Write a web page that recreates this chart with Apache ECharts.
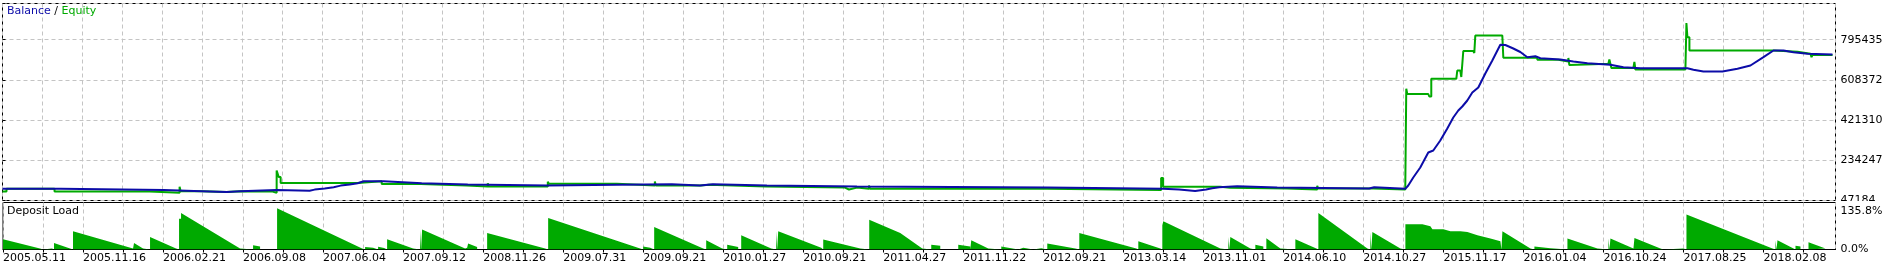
<!DOCTYPE html>
<html>
<head>
<meta charset="utf-8">
<script src="https://cdn.jsdelivr.net/npm/echarts@6/dist/echarts.min.js"></script>
<style>
html,body{margin:0;padding:0;background:#fff;}
#c{width:1889px;height:269px;}
</style>
</head>
<body>
<div id="c"></div>
<script>
// x axis = trade index (one unit per pixel column of the original chart)
const xLabels = ['2005.05.11','2005.11.16','2006.02.21','2006.09.08','2007.06.04','2007.09.12','2008.11.26','2009.07.31','2009.09.21','2010.01.27','2010.09.21','2011.04.27','2011.11.22','2012.09.21','2013.03.14','2013.11.01','2014.06.10','2014.10.27','2015.11.17','2016.01.04','2016.10.24','2017.08.25','2018.02.08'];
const yTickLabels = ['47184','234247','421310','608372','795435'];
const loadTickLabels = ['0.0%','135.8%'];

const balance = [[0,101622],[58,101622],[59,96038],[161,96038],[162,90455],[199,90455],[200,86733],[224,86733],[225,90455],[238,90455],[239,96038],[274,96038],[275,92316],[307,92316],[312,97900],[322,103483],[331,109066],[338,116511],[347,122094],[355,127212],[361,136518],[381,136518],[382,127677],[419,127677],[420,121629],[465,121629],[466,116976],[545,116976],[546,120233],[614,120233],[615,123025],[669,123025],[670,116976],[697,116976],[698,123025],[710,123025],[711,116976],[764,116976],[765,112323],[854,112323],[855,107670],[1044,107670],[1045,101622],[1160,101622],[1161,98365],[1176,98365],[1177,90920],[1192,90920],[1193,98365],[1203,98365],[1204,104413],[1209,104413],[1210,109066],[1216,109066],[1217,113719],[1234,113719],[1235,107670],[1274,107670],[1275,103018],[1366,103018],[1367,109066],[1371,109066],[1372,101622],[1402,101622],[1405,116976],[1410,154198],[1417,200726],[1425,270518],[1430,279824],[1437,326352],[1444,382186],[1450,433366],[1455,465936],[1459,484547],[1464,512464],[1469,549686],[1475,572950],[1482,638090],[1489,698576],[1497,771625],[1502,770694],[1510,754410],[1517,738125],[1524,713930],[1532,718583],[1537,709277],[1557,703229],[1570,693923],[1584,686013],[1607,678569],[1620,667402],[1637,662749],[1684,662749],[1690,655305],[1700,647395],[1719,647395],[1734,659958],[1747,675312],[1760,713930],[1770,745104],[1780,745104],[1790,737194],[1804,729750],[1829,726493]];

const equity = [[0,88594],[4,88594],[4,101622],[52,101622],[52,88594],[147,88594],[147,83011],[177,83011],[177,110927],[178,90455],[199,90455],[199,86733],[224,86733],[224,90455],[238,90455],[238,88594],[270,88594],[270,83011],[274,83011],[274,186768],[275,186768],[276,156990],[278,156990],[278,128608],[355,128608],[355,136518],[379,136518],[379,123490],[418,123490],[418,116511],[464,116511],[464,112788],[485,112788],[485,127212],[486,112788],[545,112788],[545,134657],[546,124886],[614,124886],[614,116976],[652,116976],[652,135122],[653,116511],[670,116511],[670,116976],[698,116976],[698,120233],[706,120233],[706,112788],[763,112788],[763,107205],[842,107205],[842,98365],[846,98365],[846,107205],[854,107205],[854,101622],[866,101622],[866,116511],[867,101622],[1044,101622],[1044,96504],[1158,96504],[1158,151407],[1160,151407],[1160,110927],[1217,110927],[1217,106275],[1227,106275],[1227,103018],[1284,103018],[1284,98365],[1314,98365],[1314,115580],[1315,103018],[1370,103018],[1370,98365],[1402,98365],[1403,566902],[1404,542707],[1425,542707],[1426,531075],[1428,531075],[1428,613430],[1453,613430],[1454,652048],[1457,652048],[1458,621805],[1459,621805],[1460,742778],[1470,742778],[1471,733472],[1472,733472],[1472,814896],[1499,814896],[1500,711139],[1534,711139],[1534,701833],[1555,701833],[1555,693923],[1565,693923],[1565,710208],[1566,677638],[1566,683222],[1605,683222],[1606,703229],[1607,683222],[1608,663680],[1630,663680],[1631,692527],[1632,656701],[1682,656701],[1683,873056],[1684,806986],[1686,806986],[1686,745104],[1770,745104],[1770,739055],[1794,739055],[1794,729750],[1807,729750],[1808,713930],[1809,724166],[1829,724166]];

const depositLoad = [[0,33.6],[37,3],[37,0],[40,0],[40,4],[49,3],[49,0],[51,0],[51,21.5],[67,3],[67,0],[70,0],[70,59.7],[130,3],[130,0],[131,0],[131,21.5],[140,3],[140,0],[147,0],[147,41.1],[173,3],[173,0],[176,0],[176,101],[178,101],[178,119.5],[237,3],[237,0],[250,0],[250,14],[257,10],[257,0],[274,0],[274,135.8],[359,3],[359,0],[362,0],[362,8],[370,6],[370,0],[375,0],[375,9],[381,5],[381,0],[384,0],[384,33.6],[410,3],[410,0],[417,0],[417,65],[418,65],[418,0],[419,0],[419,66],[462,3],[462,0],[463,0],[463,6],[464,6],[464,0],[465,0],[465,19.6],[474,8],[474,0],[484,0],[484,54.2],[542,3],[542,0],[545,0],[545,103.2],[637,3],[637,0],[640,0],[640,10],[647,6],[647,0],[651,0],[651,73.8],[700,3],[700,0],[703,0],[703,30.4],[719,3],[719,0],[724,0],[724,16],[735,8],[735,0],[738,0],[738,46.7],[768,3],[768,0],[773,0],[773,60.7],[774,60.7],[774,0],[775,0],[775,60],[818,6],[818,0],[820,0],[820,32.7],[857,3],[857,0],[866,0],[866,98],[897,54],[919,3],[919,0],[928,0],[928,16],[937,12],[937,0],[955,0],[955,16],[967,10],[967,0],[968,0],[968,30.4],[985,3],[985,0],[998,0],[998,10],[1005,6],[1005,0],[1015,0],[1015,6],[1020,6],[1020,0],[1030,0],[1030,6],[1038,4],[1038,0],[1044,0],[1044,19.6],[1072,3],[1072,0],[1076,0],[1076,54.2],[1133,3],[1133,0],[1135,0],[1135,27.1],[1157,3],[1157,0],[1159,0],[1159,80],[1160,92.4],[1217,3],[1217,0],[1225,0],[1225,41],[1226,41],[1226,0],[1227,0],[1227,41],[1247,3],[1247,0],[1252,0],[1252,16],[1260,10],[1260,0],[1263,0],[1263,36.9],[1277,3],[1277,0],[1292,0],[1292,33.6],[1313,3],[1313,0],[1315,0],[1315,119.5],[1364,3],[1364,0],[1367,0],[1367,57.5],[1368,57.5],[1368,0],[1369,0],[1369,57.5],[1397,3],[1397,0],[1402,0],[1402,82.6],[1419,82.6],[1427,76],[1429,66.3],[1440,66.3],[1447,59.7],[1457,59.7],[1464,57.5],[1474,46.7],[1487,35.9],[1497,27.1],[1498,0],[1499,0],[1499,59.7],[1527,3],[1527,0],[1531,0],[1531,10],[1547,4],[1547,0],[1564,0],[1564,35.9],[1594,3],[1594,0],[1605,0],[1605,36],[1606,36],[1606,0],[1607,0],[1607,36],[1630,3],[1630,0],[1631,0],[1631,37.9],[1657,3],[1657,0],[1660,0],[1660,3],[1680,3],[1680,0],[1683,0],[1683,115.3],[1769,3],[1769,0],[1772,0],[1772,30.4],[1773,30.4],[1773,0],[1774,0],[1774,30.4],[1790,3],[1790,0],[1792,0],[1792,12],[1797,10],[1797,0],[1805,0],[1805,23.8],[1822,3],[1822,0]];

const yMin = 47184, yMax = 963792, yStep = 187062.75;
const loadMax = 154.4, loadTop = 135.8;
const xMax = 1832;

const BLUE = '#0c0ca8', GREEN = '#00aa00', GRIDC = '#c4c4c4';
const FONT = 'DejaVu Sans';

const chart = echarts.init(document.getElementById('c'), null, {renderer: 'canvas'});
chart.setOption({
  animation: false,
  backgroundColor: '#fff',
  textStyle: {fontFamily: FONT},
  grid: [
    {left: 2.5, top: 3.5, width: 1833, height: 197, show: true, borderColor: '#000', borderWidth: 1, backgroundColor: 'transparent'},
    {left: 2.5, top: 202.5, width: 1833, height: 47, show: true, borderColor: '#000', borderWidth: 1, backgroundColor: 'transparent'}
  ],
  xAxis: [
    {type: 'value', gridIndex: 0, min: 0, max: xMax, interval: 40,
      axisLine: {show: false}, axisTick: {show: false}, axisLabel: {show: false},
      splitLine: {show: true, lineStyle: {color: GRIDC, type: [4, 3], width: 1}}},
    {type: 'value', gridIndex: 1, min: 0, max: xMax, interval: 40,
      axisLine: {show: true, lineStyle: {color: '#000', width: 1}},
      axisTick: {show: true, length: 3, lineStyle: {color: '#000'}},
      axisLabel: {show: true, align: 'left', margin: 3, color: '#000', fontFamily: FONT, fontSize: 11,
        showMaxLabel: false,
        formatter: function (v) { const k = v / 80; return (Number.isInteger(k) && k < xLabels.length) ? xLabels[k] : ''; }},
      splitLine: {show: true, lineStyle: {color: GRIDC, type: [4, 3], width: 1}}}
  ],
  yAxis: [
    {type: 'value', gridIndex: 0, position: 'right', min: yMin, max: yMax, interval: yStep,
      axisLine: {show: false},
      axisTick: {show: true, length: 3, lineStyle: {color: '#000'}},
      axisLabel: {show: true, margin: 5, color: '#000', fontFamily: FONT, fontSize: 11, showMaxLabel: true,
        formatter: function (v) {
          const k = Math.round((v - yMin) / yStep);
          return (Math.abs(v - (yMin + k * yStep)) < 1 && k < yTickLabels.length) ? yTickLabels[k] : '';
        }},
      splitLine: {show: true, lineStyle: {color: GRIDC, type: [4, 3], width: 1}}},
    {type: 'value', gridIndex: 1, position: 'right', min: 0, max: loadMax, interval: loadTop,
      axisLine: {show: false},
      axisTick: {show: false},
      axisLabel: {show: true, margin: 5, color: '#000', fontFamily: FONT, fontSize: 11,
        formatter: function (v) {
          if (v === 0) return '{lo|' + loadTickLabels[0] + '}';
          if (Math.abs(v - loadTop) < 0.01) return '{hi|' + loadTickLabels[1] + '}';
          return '';
        },
        rich: {lo: {fontFamily: FONT, fontSize: 11, color: '#000'},
               hi: {fontFamily: FONT, fontSize: 11, color: '#000', padding: [5, 0, 0, 0]}}},
      splitLine: {show: false}}
  ],
  series: [
    {name: 'Equity', type: 'line', xAxisIndex: 0, yAxisIndex: 0, data: equity, showSymbol: false,
      lineStyle: {color: GREEN, width: 2}, itemStyle: {color: GREEN}, z: 3, silent: true},
    {name: 'Balance', type: 'line', xAxisIndex: 0, yAxisIndex: 0, data: balance, showSymbol: false,
      lineStyle: {color: BLUE, width: 2}, itemStyle: {color: BLUE}, z: 4, silent: true},
    {name: 'Deposit Load', type: 'line', xAxisIndex: 1, yAxisIndex: 1, data: depositLoad, showSymbol: false,
      lineStyle: {width: 0, color: GREEN}, areaStyle: {color: GREEN, opacity: 1}, itemStyle: {color: GREEN}, z: 3, silent: true}
  ],
  graphic: [
    {type: 'rect', left: 1837, top: 201, shape: {width: 52, height: 4.5}, style: {fill: '#fff'}, z: 100, silent: true},
    {type: 'text', left: 7, top: 6, z: 100, silent: true,
      style: {text: '{b|Balance} {s|/} {e|Equity}', font: '11px "DejaVu Sans"',
        rich: {b: {fill: BLUE, fontFamily: FONT, fontSize: 11}, s: {fill: '#000', fontFamily: FONT, fontSize: 11}, e: {fill: GREEN, fontFamily: FONT, fontSize: 11}}}},
    {type: 'text', left: 7, top: 206, z: 100, silent: true,
      style: {text: 'Deposit Load', fill: '#000', font: '11px "DejaVu Sans"'}}
  ]
});
</script>
</body>
</html>
